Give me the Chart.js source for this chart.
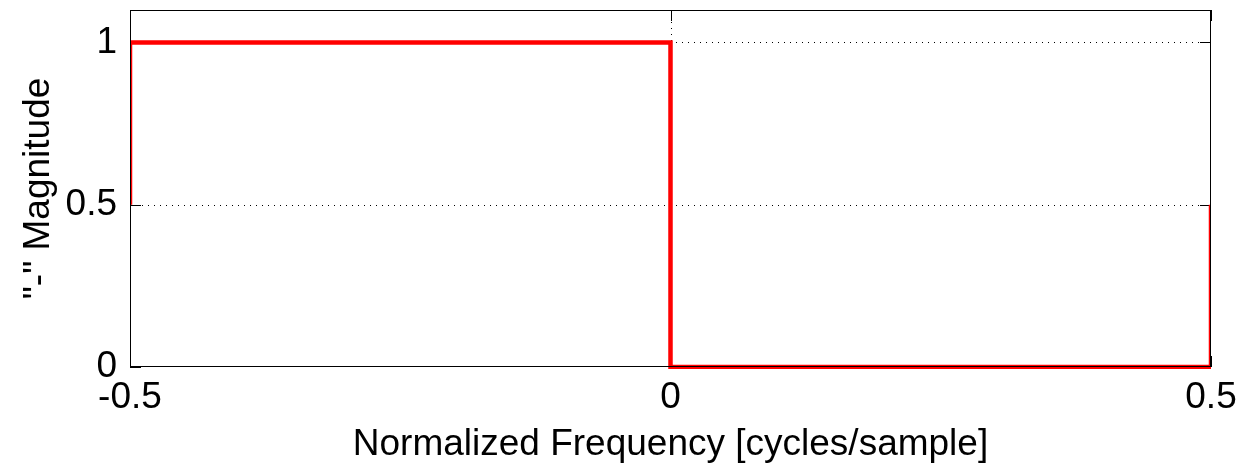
<!DOCTYPE html>
<html><head><meta charset="utf-8">
<script src="https://cdn.jsdelivr.net/npm/chart.js@4"></script>
<style>html,body{margin:0;padding:0;background:#fff;} canvas{display:block;}</style>
</head><body>
<canvas id="c" width="1243" height="473"></canvas>
<script>
const freq = [-0.5, -0.5, 0, 0, 0.5, 0.5];
const magnitude = [0.5, 1, 1, 0, 0, 0.5];
const xTicks = [-0.5, 0, 0.5];
const yTicks = [0, 0.5, 1];
const xLabel = 'Normalized Frequency [cycles/sample]';
const yLabel = '"-" Magnitude';
const xRange = [-0.5, 0.5];
const yRange = [0, 1.1];

const FONT = "'Liberation Sans', Arial, Helvetica, sans-serif";
const TICK_LEN = 11;

const framePlugin = {
  id: 'frame',
  beforeDatasetsDraw(chart) {
    const {ctx, chartArea: a, scales: {x, y}} = chart;
    ctx.save();
    ctx.strokeStyle = '#000';
    ctx.lineWidth = 1;
    ctx.setLineDash([1, 5]);
    yTicks.forEach(v => {
      if (v === yRange[0] || v === yRange[1]) return;
      const py = Math.round(y.getPixelForValue(v)) + 0.5;
      ctx.beginPath(); ctx.moveTo(a.left, py); ctx.lineTo(a.right, py); ctx.stroke();
    });
    xTicks.forEach(v => {
      if (v === xRange[0] || v === xRange[1]) return;
      const px = Math.round(x.getPixelForValue(v)) + 0.5;
      ctx.beginPath(); ctx.moveTo(px, a.top); ctx.lineTo(px, a.bottom); ctx.stroke();
    });
    ctx.setLineDash([]);
    yTicks.forEach(v => {
      const py = Math.round(y.getPixelForValue(v)) + 0.5;
      ctx.beginPath();
      ctx.moveTo(a.left, py); ctx.lineTo(a.left + TICK_LEN, py);
      ctx.moveTo(a.right, py); ctx.lineTo(a.right - TICK_LEN, py);
      ctx.stroke();
    });
    xTicks.forEach(v => {
      const px = Math.round(x.getPixelForValue(v)) + 0.5;
      ctx.beginPath();
      ctx.moveTo(px, a.bottom); ctx.lineTo(px, a.bottom - TICK_LEN);
      ctx.moveTo(px, a.top); ctx.lineTo(px, a.top + TICK_LEN);
      ctx.stroke();
    });
    ctx.restore();
  },
  afterDatasetsDraw(chart) {
    const {ctx, chartArea: a} = chart;
    ctx.save();
    ctx.strokeStyle = '#000';
    ctx.lineWidth = 1;
    const l = Math.round(a.left) + 0.5, t = Math.round(a.top) + 0.5;
    const r = Math.round(a.right) - 0.5, b = Math.round(a.bottom) - 0.5;
    ctx.strokeRect(l, t, r - l, b - t);
    ctx.restore();
  }
};

const tickFont = {family: FONT, size: 37};

new Chart(document.getElementById('c'), {
  type: 'scatter',
  data: {
    datasets: [{
      data: freq.map((f, i) => ({x: f, y: magnitude[i]})),
      showLine: true,
      borderColor: '#ff0000',
      backgroundColor: '#ff0000',
      borderWidth: 4.5,
      pointRadius: 0,
      pointHoverRadius: 0,
      tension: 0,
      fill: false,
      clip: {left: 0, top: 0, right: 0, bottom: 2}
    }]
  },
  options: {
    responsive: false,
    animation: false,
    devicePixelRatio: 1,
    layout: {padding: {top: 10, right: 32, left: 0, bottom: 0}},
    plugins: {legend: {display: false}, tooltip: {enabled: false}},
    scales: {
      x: {
        type: 'linear', min: xRange[0], max: xRange[1],
        grid: {display: false, drawTicks: false},
        border: {display: false},
        afterBuildTicks: s => { s.ticks = xTicks.map(v => ({value: v})); },
        afterFit: s => { s.height = 106; s.paddingLeft = 0; s.paddingRight = 0; },
        ticks: {callback: v => String(v), font: tickFont, color: '#000', padding: 9, maxRotation: 0, autoSkip: false},
        title: {display: true, text: xLabel, font: tickFont, color: '#000', padding: {top: 0, bottom: 6}}
      },
      y: {
        type: 'linear', min: yRange[0], max: yRange[1],
        grid: {display: false, drawTicks: false},
        border: {display: false},
        afterBuildTicks: s => { s.ticks = yTicks.map(v => ({value: v})); },
        afterFit: s => { s.width = 130; s.paddingTop = 0; s.paddingBottom = 0; },
        ticks: {callback: v => String(v), font: tickFont, color: '#000', padding: 13, autoSkip: false},
        title: {display: true, text: yLabel, font: tickFont, color: '#000', padding: {top: 17, bottom: 0}}
      }
    }
  },
  plugins: [framePlugin]
});
</script>
</body></html>
